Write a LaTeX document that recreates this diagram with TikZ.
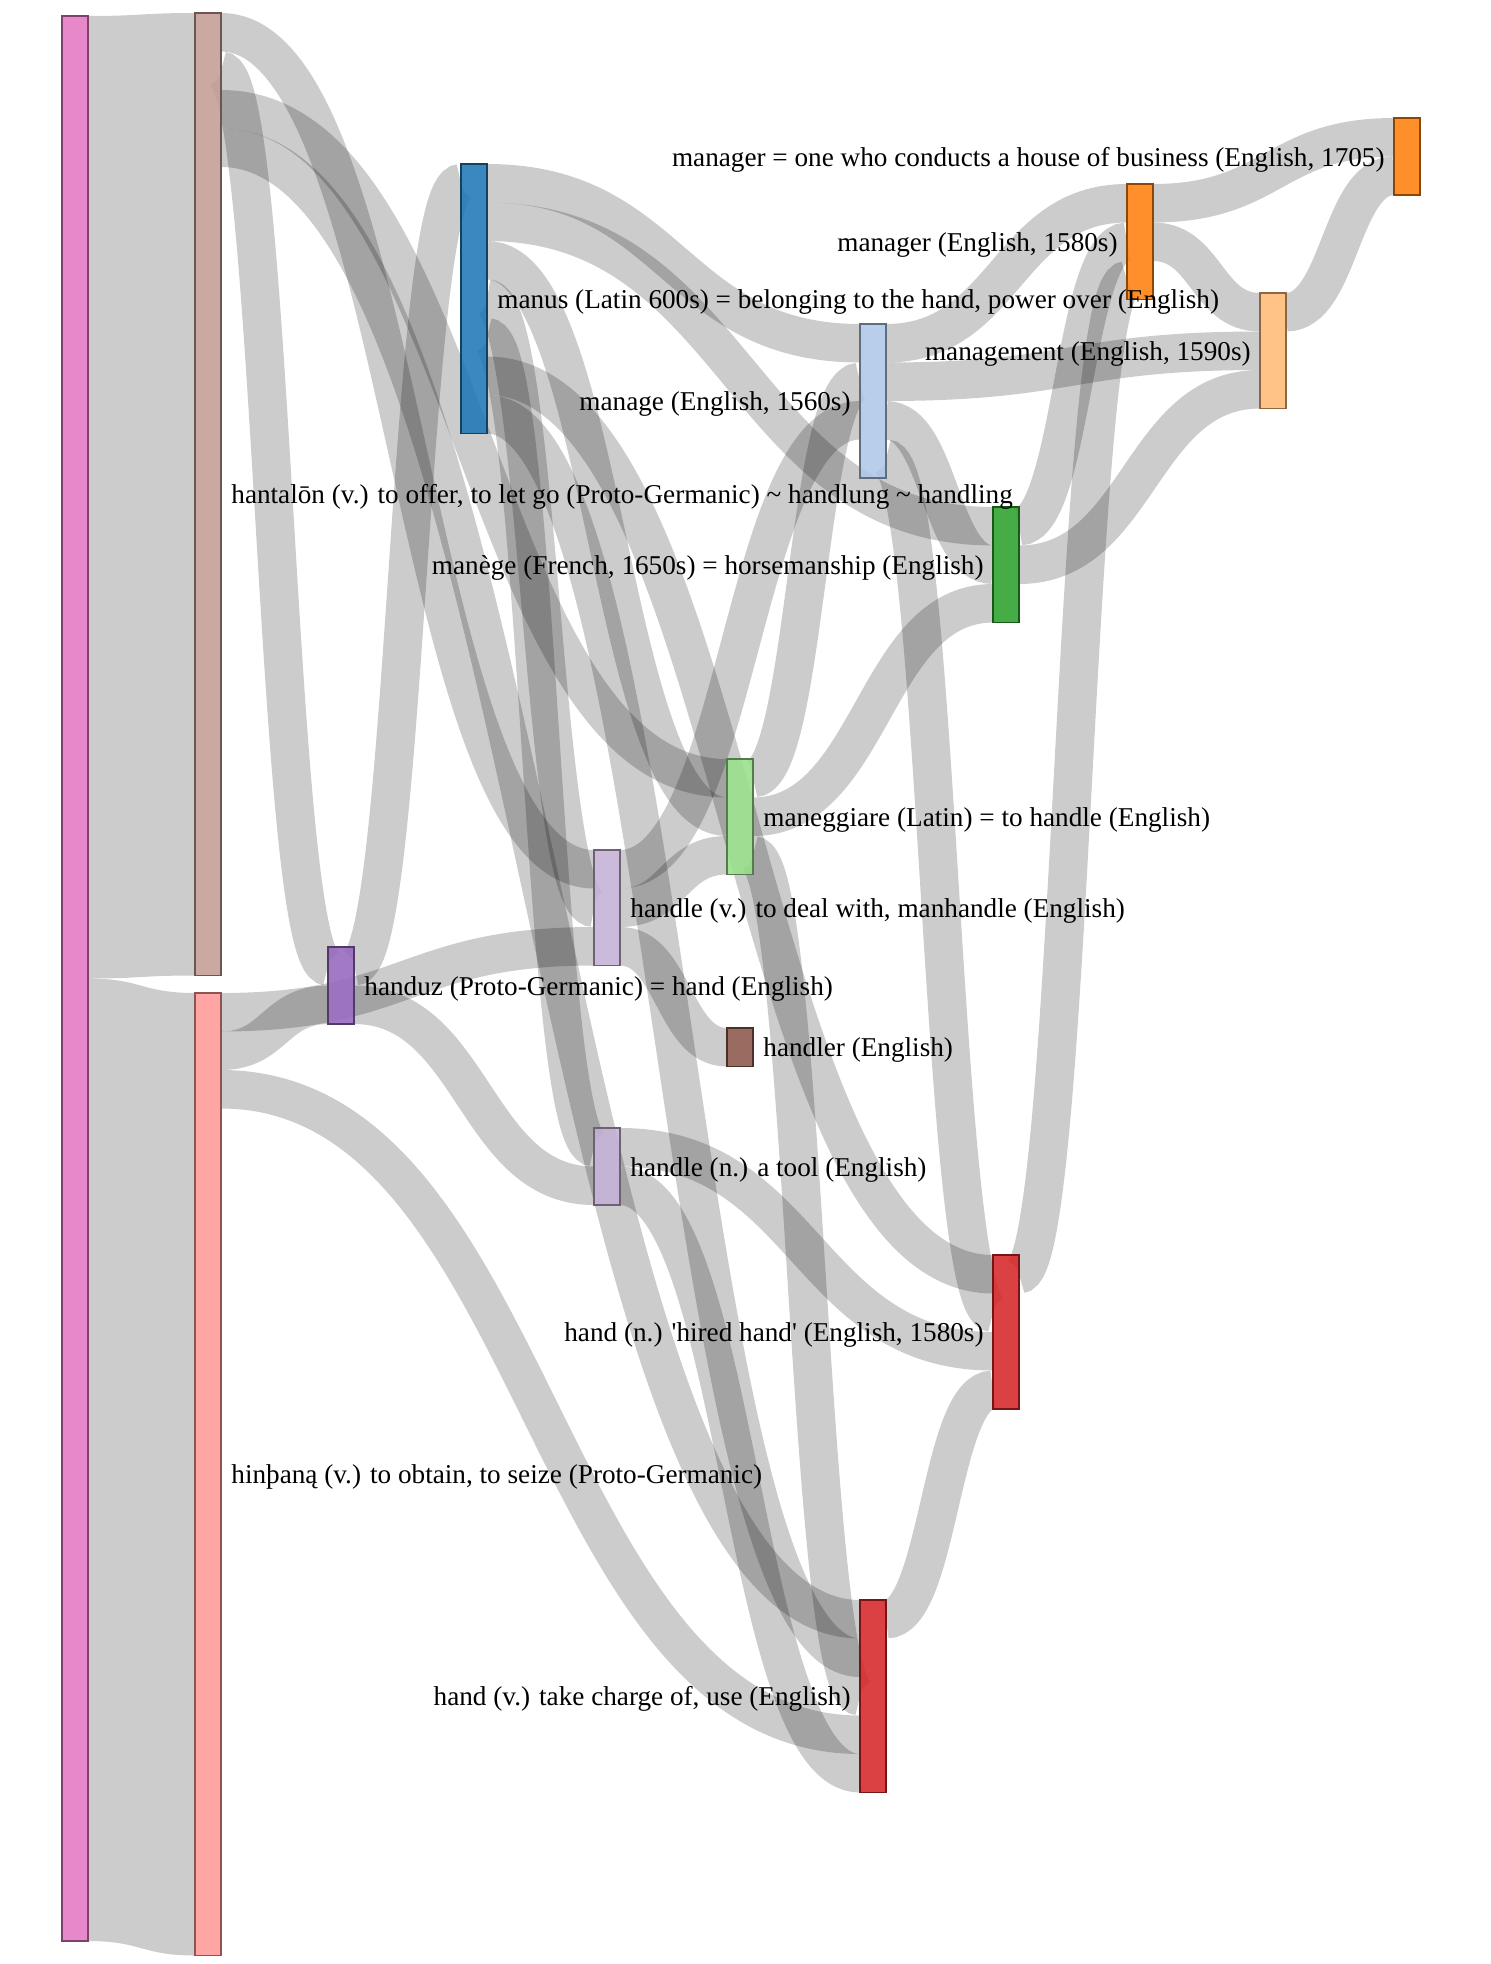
\documentclass[tikz,border=0pt]{standalone}
\usepackage{fontspec}
\setmainfont{Liberation Serif}[Ligatures=TeXOff]
\usepackage{xcolor}
\usepackage{tikz}
\usetikzlibrary{positioning,calc,backgrounds}
\definecolor{rootpink}{HTML}{E377C2}
\definecolor{hantbrown}{HTML}{C49C94}
\definecolor{hinsalmon}{HTML}{FF9896}
\definecolor{handuzpurple}{HTML}{9467BD}
\definecolor{manusblue}{HTML}{1F77B4}
\definecolor{handlelilac}{HTML}{C5B0D5}
\definecolor{maneggreen}{HTML}{98DF8A}
\definecolor{handlerbrown}{HTML}{8C564B}
\definecolor{manageblue}{HTML}{AEC7E8}
\definecolor{handred}{HTML}{D62728}
\definecolor{manegegreen}{HTML}{2CA02C}
\definecolor{mgrorange}{HTML}{FF7F0E}
\definecolor{mgmtorange}{HTML}{FFBB78}
\newcommand{\fu}{19.25pt}
\newcommand{\flow}[5]{%
  \draw[flowband, line width=#5*\fu] let \p1=($(#1.north east)+(0pt,-#2*\fu-#5*\fu/2)$), \p2=($(#3.north west)+(0pt,-#4*\fu-#5*\fu/2)$) in
    (\p1) .. controls ({(\x1+\x2)/2},\y1) and ({(\x1+\x2)/2},\y2) .. (\p2);}
\newcommand{\wideflow}[5]{%
  \fill[wideband] let \p1=($(#1.north east)+(0pt,-#2*\fu)$), \p2=($(#3.north west)+(0pt,-#4*\fu)$) in
    (\p1) .. controls ({(\x1+\x2)/2},\y1) and ({(\x1+\x2)/2},\y2) .. (\p2)
    -- ({\x2},{\y2-#5*\fu}) .. controls ({(\x1+\x2)/2},{\y2-#5*\fu}) and ({(\x1+\x2)/2},{\y1-#5*\fu}) .. ({\x1},{\y1-#5*\fu}) -- cycle;}

\begin{document}
\begin{tikzpicture}[
    x=0.5pt, y=-0.5pt,
    bar/.style={rectangle, draw=#1!55!black, fill=#1, fill opacity=0.88, line width=0.6pt, inner sep=0pt, outer sep=0pt, minimum width=13pt, anchor=north west},
    ht/.style={minimum height=#1*\fu},
    flowband/.style={draw=black, draw opacity=0.2, line cap=butt},
    wideband/.style={fill=black, fill opacity=0.2},
    lblr/.style={font=\fontsize{13.6}{16}\selectfont, inner sep=0pt, text height=10.9pt, text depth=1.4pt, anchor=west},
    lbll/.style={lblr, anchor=east}
]
\useasboundingbox (0,0) rectangle (1490,1964);

\node[bar=rootpink, ht=50] (root) at (62,16) {};
\node[bar=hantbrown, ht=25] (hant) at (195,13) {};
\node[bar=hinsalmon, ht=25] (hinth) at (195,993) {};
\node[bar=handuzpurple, ht=2] (handuz) at (328,947) {};
\node[bar=manusblue, ht=7] (manus) at (461,164) {};
\node[bar=handlelilac, ht=3] (handlev) at (594,850) {};
\node[bar=handlelilac, ht=2] (handlen) at (594,1128) {};
\node[bar=maneggreen, ht=3] (maneg) at (727,759) {};
\node[bar=handlerbrown, ht=1] (handler) at (727,1028) {};
\node[bar=manageblue, ht=4] (manage) at (860,324) {};
\node[bar=handred, ht=5] (handv) at (860,1600) {};
\node[bar=manegegreen, ht=3] (manege) at (993,507) {};
\node[bar=handred, ht=4] (handn) at (993,1255) {};
\node[bar=mgrorange, ht=3] (mgr) at (1127,184) {};
\node[bar=mgmtorange, ht=3] (mgmt) at (1260,293) {};
\node[bar=mgrorange, ht=2] (mgrhouse) at (1394,118) {};

\begin{scope}[on background layer]
\wideflow{root}{0}{hant}{0}{25}
\wideflow{root}{25}{hinth}{0}{25}
\flow{hant}{0}{handlev}{0}{1}
\flow{hant}{1}{handuz}{0}{1}
\flow{hant}{2}{maneg}{0}{1}
\flow{hant}{3}{handv}{0}{1}
\flow{hinth}{0}{handlev}{2}{1}
\flow{hinth}{1}{handuz}{1}{1}
\flow{hinth}{2}{handv}{3}{1}
\flow{handuz}{0}{manus}{0}{1}
\flow{handuz}{1}{handlen}{1}{1}
\flow{manus}{0}{manage}{0}{1}
\flow{manus}{1}{manege}{0}{1}
\flow{manus}{2}{maneg}{1}{1}
\flow{manus}{3}{handlev}{1}{1}
\flow{manus}{4}{handlen}{0}{1}
\flow{manus}{5}{handn}{0}{1}
\flow{manus}{6}{handv}{1}{1}
\flow{handlev}{0}{manage}{2}{1}
\flow{handlev}{1}{maneg}{2}{1}
\flow{handlev}{2}{handler}{0}{1}
\flow{maneg}{0}{manage}{1}{1}
\flow{maneg}{1}{manege}{2}{1}
\flow{maneg}{2}{handv}{2}{1}
\flow{handlen}{0}{handn}{2}{1}
\flow{handlen}{1}{handv}{4}{1}
\flow{manage}{0}{mgr}{0}{1}
\flow{manage}{1}{mgmt}{1}{1}
\flow{manage}{2}{manege}{1}{1}
\flow{manage}{3}{handn}{1}{1}
\flow{handv}{0}{handn}{3}{1}
\flow{manege}{0}{mgr}{1}{1}
\flow{manege}{1}{mgmt}{2}{1}
\flow{handn}{0}{mgr}{2}{1}
\flow{mgr}{0}{mgrhouse}{0}{1}
\flow{mgr}{1}{mgmt}{0}{1}
\flow{mgmt}{0}{mgrhouse}{1}{1}
\end{scope}

\node[lblr, right=5pt of hant] (hant-t) {hantalōn (v.) to offer, to let go (Proto-Germanic) \textasciitilde{} handlung \textasciitilde{} handling};
\node[lblr, right=5pt of hinth] (hinth-t) {hinþaną (v.) to obtain, to seize (Proto-Germanic)};
\node[lblr, right=5pt of handuz] (handuz-t) {handuz (Proto-Germanic) = hand (English)};
\node[lblr, right=5pt of manus] (manus-t) {manus (Latin 600s) = belonging to the hand, power over (English)};
\node[lblr, right=5pt of handlev] (handlev-t) {handle (v.) to deal with, manhandle (English)};
\node[lblr, right=5pt of handlen] (handlen-t) {handle (n.) a tool (English)};
\node[lblr, right=5pt of maneg] (maneg-t) {maneggiare (Latin) = to handle (English)};
\node[lblr, right=5pt of handler] (handler-t) {handler (English)};
\node[lbll, left=4.5pt of manage] (manage-t) {manage (English, 1560s)};
\node[lbll, left=4.5pt of handv] (handv-t) {hand (v.) take charge of, use (English)};
\node[lbll, left=4.5pt of manege] (manege-t) {manège (French, 1650s) = horsemanship (English)};
\node[lbll, left=4.5pt of handn] (handn-t) {hand (n.) 'hired hand' (English, 1580s)};
\node[lbll, left=4.5pt of mgr] (mgr-t) {manager (English, 1580s)};
\node[lbll, left=4.5pt of mgmt] (mgmt-t) {management (English, 1590s)};
\node[lbll, left=4.5pt of mgrhouse] (mgrhouse-t) {manager = one who conducts a house of business (English, 1705)};
\end{tikzpicture}
\end{document}
